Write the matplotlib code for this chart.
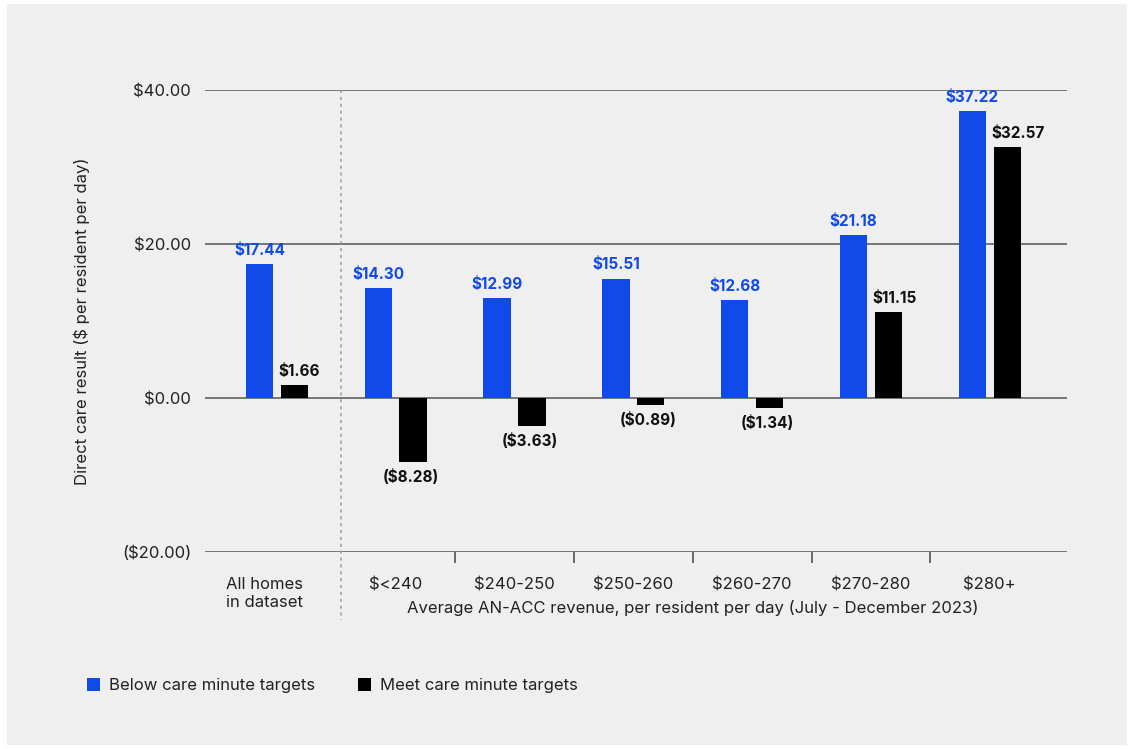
import matplotlib.pyplot as plt
import numpy as np
from matplotlib.patches import Rectangle

plt.rcParams['font.family'] = ['Inter', 'DejaVu Sans']
plt.rcParams['text.parse_math'] = False

groups = ["All homes\nin dataset", "$<240", "$240-250", "$250-260",
          "$260-270", "$270-280", "$280+"]
below = [17.44, 14.30, 12.99, 15.51, 12.68, 21.18, 37.22]
meet = [1.66, -8.28, -3.63, -0.89, -1.34, 11.15, 32.57]

BLUE = "#104ae8"
BG = "#efefef"


def money(v):
    return f"${v:.2f}" if v >= 0 else f"(${-v:.2f})"


fig = plt.figure(figsize=(11.34, 7.49), dpi=100, facecolor="white")
fig.patches.append(Rectangle((7 / 1134, 4 / 749), 1120 / 1134, 741 / 749,
                             transform=fig.transFigure, facecolor=BG,
                             edgecolor="none", zorder=-10))

ax = fig.add_axes([205 / 1134, 1 - 552 / 749, (1067 - 205) / 1134, (552 - 90) / 749])
ax.set_facecolor(BG)

x = np.arange(len(groups))
w = 0.23
off = 0.147
ax.bar(x - off, below, w, color=BLUE, zorder=3, label="Below care minute targets")
ax.bar(x + off, meet, w, color="black", zorder=3, label="Meet care minute targets")

ax.set_ylim(-20, 40)
ax.set_xlim(-0.605, 6.65)
ax.set_yticks([-20, 0, 20, 40])
ax.set_yticklabels([money(v) for v in [-20, 0, 20, 40]], fontsize=12, color="#222222")
ax.yaxis.grid(True, color="#555555", linewidth=1.1, zorder=1)
ax.tick_params(axis="y", length=0, pad=10)
for s in ["top", "right", "left", "bottom"]:
    ax.spines[s].set_visible(False)

# group separators along the bottom edge
ax.set_xticks(np.arange(1.5, 6, 1.0))
ax.set_xticklabels([])
ax.tick_params(axis="x", length=8, width=1.1, color="#444444", direction="out")

for i, g in enumerate(groups):
    if i == 0:
        ax.text(i - 0.43, -23.3, g, ha="left", va="top", fontsize=12,
                color="#222222", linespacing=1.25)
    else:
        ax.text(i, -23.3, g, ha="center", va="top", fontsize=12, color="#222222")

ax.text(3.5, -26.2, "Average AN-ACC revenue, per resident per day (July - December 2023)",
        ha="center", va="top", fontsize=12, color="#222222")

# divider between the overall figure and the revenue bands
ax.plot([0.54, 0.54], [40, -28.8], linestyle=(0, (2, 2.5)), color="#999999",
        linewidth=1.1, clip_on=False, zorder=2)

for i in x:
    b = below[i]
    ax.text(i - off, b + 0.8, money(b), ha="center", va="bottom", fontsize=11,
            fontweight="bold", color=BLUE, zorder=4)
    m = meet[i]
    if m >= 0:
        ax.text(i + off - w / 2 - 0.02, m + 0.8, money(m), ha="left", va="bottom",
                fontsize=11, fontweight="bold", color="#111111", zorder=4)
    else:
        ax.text(i + off - 0.02, m - 0.9, money(m), ha="center", va="top",
                fontsize=11, fontweight="bold", color="#111111", zorder=4)

ax.set_ylabel("Direct care result ($ per resident per day)", fontsize=12,
              color="#222222", labelpad=14)
ax.yaxis.set_label_coords(-0.133, 0.5)

fig.legend(loc="lower left", bbox_to_anchor=(72 / 1134, 1 - 708 / 749), ncol=2,
           frameon=False, fontsize=12, handlelength=0.8, handleheight=0.8,
           columnspacing=2.6, handletextpad=0.5, labelcolor="#222222")

fig.savefig("out.png", dpi=100, facecolor="white")
